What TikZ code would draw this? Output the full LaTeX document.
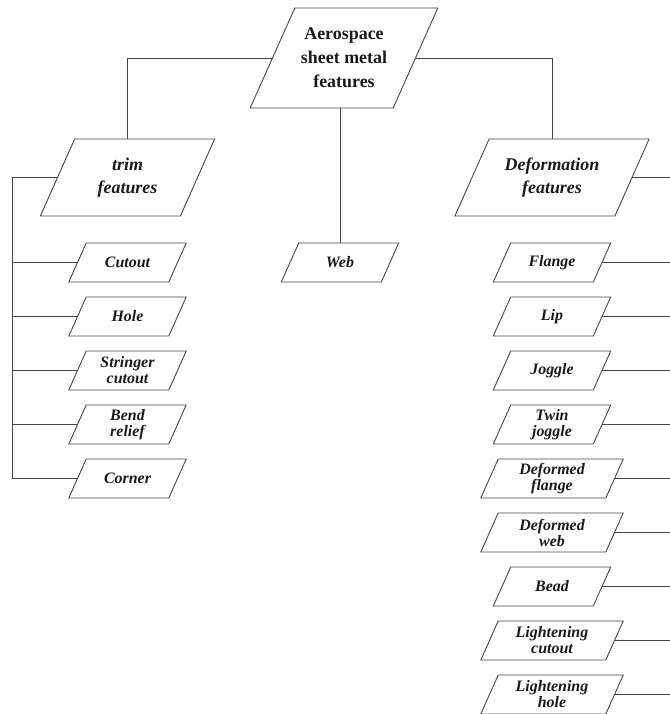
\documentclass[tikz,border=0pt]{standalone}
\usepackage{fontspec}
\setmainfont{Liberation Serif}
\usepackage{tikz}
\usetikzlibrary{positioning}
\definecolor{mydark}{RGB}{25,25,25}
\definecolor{myline}{RGB}{70,70,70}
\tikzset{
  line/.style={line width=0.9pt, color=myline},
  featbase/.style={rectangle, inner sep=0pt, outer sep=0pt, align=center, text=mydark,
    append after command={\pgfextra{\begin{pgfinterruptpath}
      \draw[line, line join=miter] ([xshift=-#1]\tikzlastnode.south west)
        -- ([xshift=#1]\tikzlastnode.north west) -- ([xshift=#1]\tikzlastnode.north east)
        -- ([xshift=-#1]\tikzlastnode.south east) -- cycle;
    \end{pgfinterruptpath}}}},
  rootbox/.style={featbase=22.3bp, minimum width=143bp, minimum height=100bp,
    font=\fontsize{18}{24}\selectfont\bfseries},
  groupbox/.style={featbase=17.1bp, minimum height=77bp,
    font=\fontsize{18}{23}\selectfont\bfseries\itshape},
  featbox/.style={featbase=8.7bp, minimum width=100bp, minimum height=39bp,
    font=\fontsize{16}{16}\selectfont\bfseries\itshape},
  widebox/.style={featbox, minimum width=125bp}
}

\begin{document}
\begin{tikzpicture}[x=1bp, y=-1bp, node distance=15bp]
  \useasboundingbox (0,0) rectangle (670,714);

  % Root and groups
  \node[rootbox] (root) at (344,58) {Aerospace\\sheet metal\\features};
  \node[groupbox, minimum width=140bp] (trim) at (127.5,177.5) {trim\\features};
  \node[groupbox, minimum width=160bp] (deform) at (552,177.5) {Deformation\\features};
  \node[featbox] (web) at (340,262.5) {Web};

  % Trim features
  \node[featbox, below=27bp of trim] (cutout) {Cutout};
  \node[featbox, below=of cutout] (hole) {Hole};
  \node[featbox, below=of hole] (stringer) {Stringer\\cutout};
  \node[featbox, below=of stringer] (bend) {Bend\\relief};
  \node[featbox, below=of bend] (corner) {Corner};

  % Deformation features
  \node[featbox, below=27bp of deform] (flange) {Flange};
  \node[featbox, below=of flange] (lip) {Lip};
  \node[featbox, below=of lip] (joggle) {Joggle};
  \node[featbox, below=of joggle] (twin) {Twin\\joggle};
  \node[widebox, below=of twin] (defflange) {Deformed\\flange};
  \node[widebox, below=of defflange] (defweb) {Deformed\\web};
  \node[featbox, below=of defweb] (bead) {Bead};
  \node[widebox, below=of bead] (lightcut) {Lightening\\cutout};
  \node[widebox, below=of lightcut] (lighthole) {Lightening\\hole};

  % Bus ends
  \coordinate (leftbus) at (12,0);
  \coordinate (rightend) at (670,0);

  % Root links
  \draw[line] (root.west) -| (trim.north);
  \draw[line] (root.east) -| (deform.north);
  \draw[line] (web.north) -- (web.north |- root.south);

  % Trim links
  \draw[line] (trim.west) -- (trim.west -| leftbus) -- (corner.west -| leftbus) -- (corner.west);
  \draw[line] (cutout.west) -- (cutout.west -| leftbus);
  \draw[line] (hole.west) -- (hole.west -| leftbus);
  \draw[line] (stringer.west) -- (stringer.west -| leftbus);
  \draw[line] (bend.west) -- (bend.west -| leftbus);

  % Deformation links
  \draw[line] (deform.east) -- (deform.east -| rightend);
  \draw[line] (flange.east) -- (flange.east -| rightend);
  \draw[line] (lip.east) -- (lip.east -| rightend);
  \draw[line] (joggle.east) -- (joggle.east -| rightend);
  \draw[line] (twin.east) -- (twin.east -| rightend);
  \draw[line] (defflange.east) -- (defflange.east -| rightend);
  \draw[line] (defweb.east) -- (defweb.east -| rightend);
  \draw[line] (bead.east) -- (bead.east -| rightend);
  \draw[line] (lightcut.east) -- (lightcut.east -| rightend);
  \draw[line] (lighthole.east) -- (lighthole.east -| rightend);
\end{tikzpicture}
\end{document}
